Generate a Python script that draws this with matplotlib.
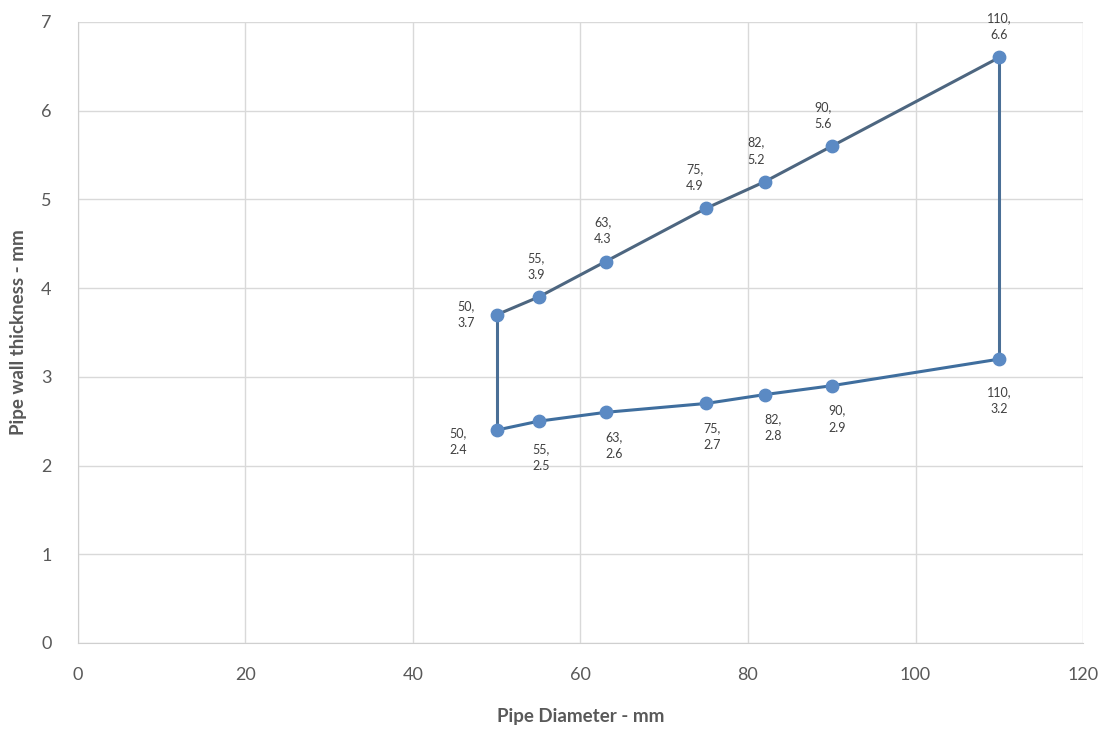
import matplotlib.pyplot as plt

# pipe diameters and wall thickness (upper / lower limits)
diam = [50, 55, 63, 75, 82, 90, 110]
thick_max = [3.7, 3.9, 4.3, 4.9, 5.2, 5.6, 6.6]
thick_min = [2.4, 2.5, 2.6, 2.7, 2.8, 2.9, 3.2]

# label offsets in points (x, y)
off_max = [(-22, 0), (-2, 22), (-2, 22), (-8, 22), (-6, 22), (-6, 22), (0, 22)]
off_min = [(-28, -8), (2, -26), (6, -24), (4, -24), (6, -24), (4, -24), (0, -30)]

plt.rcParams['font.family'] = ['Lato', 'DejaVu Sans']

fig = plt.figure(figsize=(11.11, 7.33), dpi=100)
ax = fig.add_axes([0.0702, 0.1228, 0.9046, 0.8472])

line_c = '#4a6f96'
mark_c = '#5b8ac4'

ax.plot(diam, thick_max, color='#4d6680', lw=2.2, zorder=3)
ax.plot(diam, thick_min, color='#3f6e9e', lw=2.2, zorder=3)
ax.plot([diam[0], diam[0]], [thick_min[0], thick_max[0]], color=line_c, lw=2.2, zorder=3)
ax.plot([diam[-1], diam[-1]], [thick_min[-1], thick_max[-1]], color=line_c, lw=2.2, zorder=3)
ax.scatter(diam + diam, thick_max + thick_min, s=80, color=mark_c, zorder=4)

for x, y, o in zip(diam, thick_max, off_max):
    ax.annotate(f'{x},\n{y}', (x, y), xytext=o, textcoords='offset points',
                ha='center', va='center', fontsize=9, color='#404040', linespacing=1.5)
for x, y, o in zip(diam, thick_min, off_min):
    ax.annotate(f'{x},\n{y}', (x, y), xytext=o, textcoords='offset points',
                ha='center', va='center', fontsize=9, color='#404040', linespacing=1.5)

ax.set_xlim(0, 120)
ax.set_ylim(0, 7)
ax.set_xticks(range(0, 121, 20))
ax.set_yticks(range(0, 8))
ax.grid(True, color='#d9d9d9', lw=1)
ax.set_axisbelow(True)
for s in ['top', 'right']:
    ax.spines[s].set_visible(False)
for s in ['left', 'bottom']:
    ax.spines[s].set_color('#cfcfcf')
ax.tick_params(length=0, labelsize=13, colors='#595959')
ax.tick_params(axis='x', pad=17)
ax.tick_params(axis='y', pad=19)

ax.set_xlabel('Pipe Diameter - mm', fontsize=13.5, fontweight='bold', color='#595959', labelpad=18)
ax.set_ylabel('Pipe wall thickness - mm', fontsize=13.5, fontweight='bold', color='#595959', labelpad=10)

fig.savefig('out.png', dpi=100)
